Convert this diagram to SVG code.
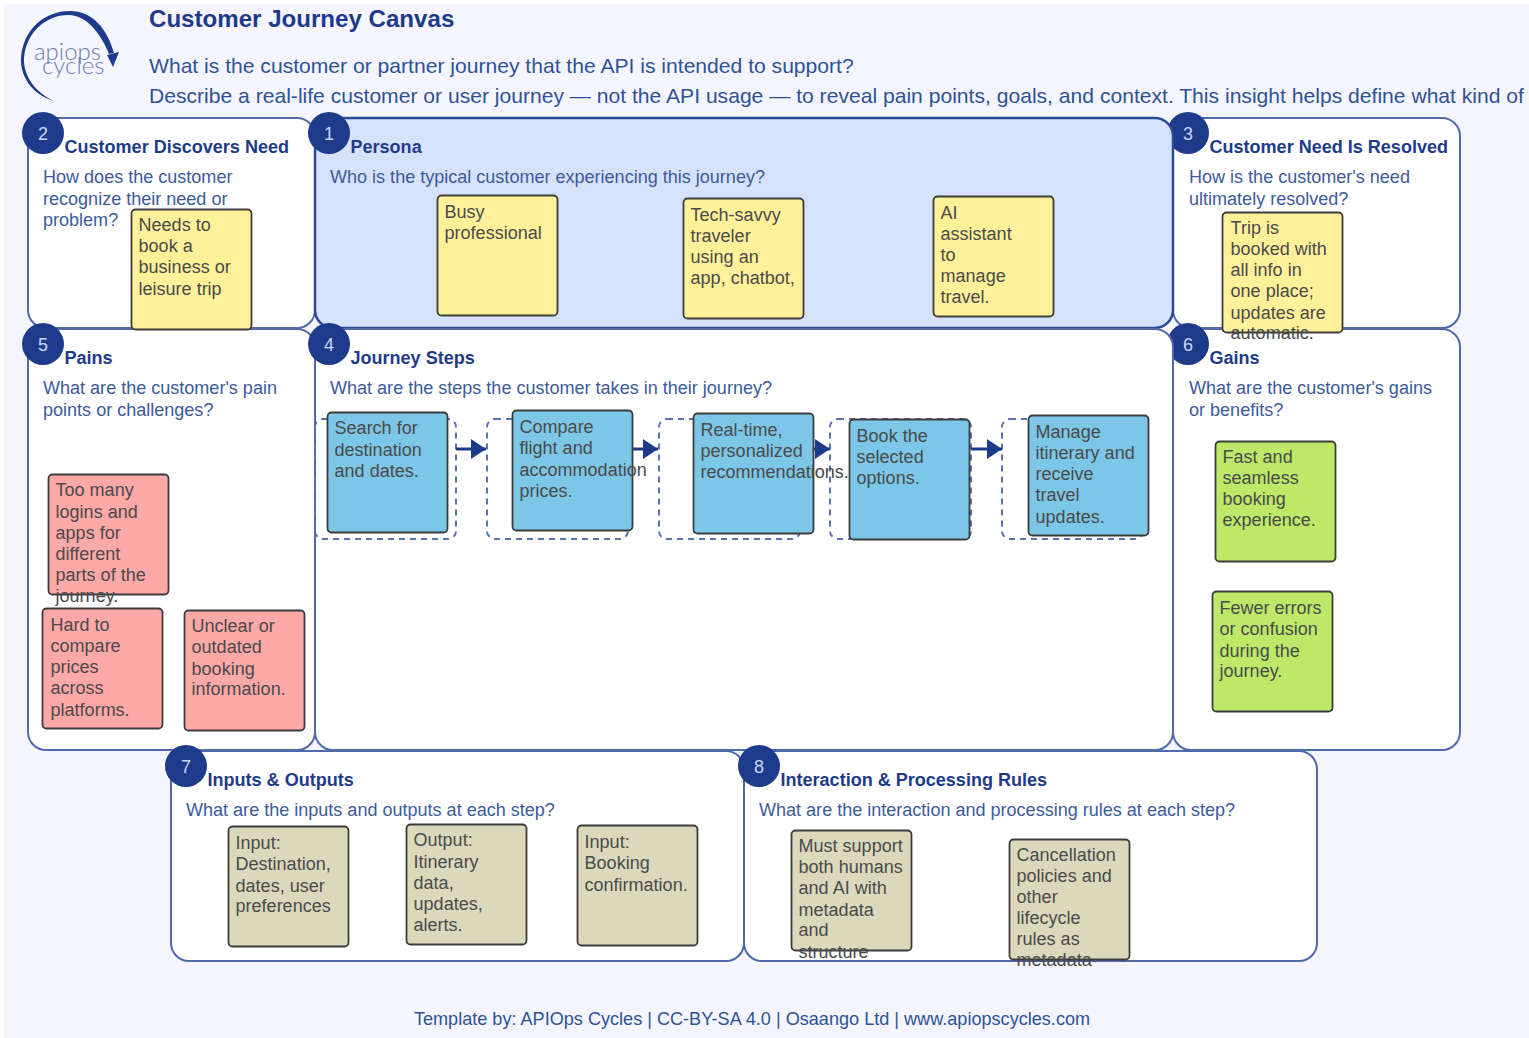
<svg xmlns="http://www.w3.org/2000/svg" width="1529" height="1038" viewBox="0 0 1529 1038">
<style>
text{font-family:"Liberation Sans",Arial,sans-serif}
.panel{fill:#fff;stroke:#4f69aa;stroke-width:2}
.blue{fill:#d6e2fb;stroke:#2a4a96;stroke-width:2.5}
.t{font-size:18.05px;font-weight:bold;fill:#1e3a8a;transform:translate(-.5px,0)}
.q{font-size:18.05px;fill:#3c5a9c;transform:translate(0,.2px)}
.n{fill:#1e3a8a}
.num{font-size:18px;fill:#c8d8ff;text-anchor:middle}
.s{stroke:#3c3c3c;stroke-width:1.8;width:120px;height:120px;transform:translate(.5px,.5px)}
.y{fill:#fff199}.b{fill:#7cc6e7}.r{fill:#ffa8a8}.g{fill:#bde868}.k{fill:#dcd8bc}
.c{font-size:18px;fill:#4a4a4a;transform:translate(-.4px,0)}
.d{fill:none;stroke:#5a72b0;stroke-width:2;stroke-dasharray:6 5}
.h{font-size:21.1px;fill:#2f5296}
.a{stroke:#1e3a8a;stroke-width:3;fill:none;marker-end:url(#ah)}
</style>
<defs><marker id="ah" markerUnits="userSpaceOnUse" markerWidth="15" markerHeight="20" refX="15" refY="10" orient="auto"><path d="M0 0L15 10L0 20Z" fill="#1e3a8a"/></marker></defs>
<rect x="4" y="4" width="1525" height="1034" fill="#f4f5ff"/>
<g id="logo">
<path d="M54 101C30 94 20 74 21 58C23 30 44 11 70 11C92 11 107 28 114 53L109 54C102 36 88 16 70 15C47 14 26 32 24 58C23 74 34 92 54 101Z" fill="#1e3a8a"/>
<path d="M107 55L119 52L113 67Z" fill="#1e3a8a"/>
<text x="34" y="60" font-size="24" fill="#6d7fb0" style="font-family:Lato,sans-serif;font-weight:300">apiops</text>
<text x="42" y="74" font-size="24" fill="#6d7fb0" style="font-family:Lato,sans-serif;font-weight:300">cycles</text>
</g>
<g id="header">
<text x="149" y="27" font-weight="bold" fill="#1e3a8a" style="font-size:24.1px">Customer Journey Canvas</text>
<text x="149" y="73" class="h">What is the customer or partner journey that the API is intended to support?</text>
<text x="149" y="103" class="h">Describe a real-life customer or user journey — not the API usage — to reveal pain points, goals, and context. This insight helps define what kind of</text>
</g>
<g id="panel-2"><rect class="panel" x="28" y="118" width="287" height="210" rx="18"/><circle class="n" cx="43" cy="133" r="21"/><text class="num" x="43" y="140">2</text><text class="t" x="65" y="153">Customer Discovers Need</text><text class="q" x="43" y="183">How does the customer</text><text class="q" x="43" y="205">recognize their need or</text><text class="q" x="43" y="226">problem?</text></g>
<g id="panel-3"><rect class="panel" x="1173" y="118" width="287" height="210" rx="18"/><circle class="n" cx="1188" cy="133" r="21"/><text class="num" x="1188" y="140">3</text><text class="t" x="1210" y="153">Customer Need Is Resolved</text><text class="q" x="1189" y="183">How is the customer's need</text><text class="q" x="1189" y="205">ultimately resolved?</text></g>
<g id="panel-1"><rect class="blue" x="315" y="118" width="858" height="210" rx="18"/><circle class="n" cx="329" cy="133" r="21"/><text class="num" x="329" y="140">1</text><text class="t" x="351" y="153">Persona</text><text class="q" x="330" y="183">Who is the typical customer experiencing this journey?</text></g>
<g id="panel-5"><rect class="panel" x="28" y="329" width="287" height="421" rx="18"/><circle class="n" cx="43" cy="344" r="21"/><text class="num" x="43" y="351">5</text><text class="t" x="65" y="364">Pains</text><text class="q" x="43" y="394">What are the customer's pain</text><text class="q" x="43" y="416">points or challenges?</text></g>
<g id="panel-6"><rect class="panel" x="1173" y="329" width="287" height="421" rx="18"/><circle class="n" cx="1188" cy="344" r="21"/><text class="num" x="1188" y="351">6</text><text class="t" x="1210" y="364">Gains</text><text class="q" x="1189" y="394">What are the customer's gains</text><text class="q" x="1189" y="416">or benefits?</text></g>
<g id="panel-4"><rect class="panel" x="315" y="329" width="858" height="421" rx="18"/><circle class="n" cx="329" cy="344" r="21"/><text class="num" x="329" y="351">4</text><text class="t" x="351" y="364">Journey Steps</text><text class="q" x="330" y="394">What are the steps the customer takes in their journey?</text></g>
<g id="panel-7"><rect class="panel" x="171" y="751" width="573" height="210" rx="18"/><circle class="n" cx="186" cy="766" r="21"/><text class="num" x="186" y="773">7</text><text class="t" x="208" y="786">Inputs &amp; Outputs</text><text class="q" x="186" y="816">What are the inputs and outputs at each step?</text></g>
<g id="panel-8"><rect class="panel" x="744" y="751" width="573" height="210" rx="18"/><circle class="n" cx="759" cy="766" r="21"/><text class="num" x="759" y="773">8</text><text class="t" x="781" y="786">Interaction &amp; Processing Rules</text><text class="q" x="759" y="816">What are the interaction and processing rules at each step?</text></g>
<g id="connectors">
<rect class="d" x="315" y="419" width="141" height="120" rx="8"/>
<rect class="d" x="487" y="419" width="141" height="120" rx="8"/>
<rect class="d" x="659" y="419" width="141" height="120" rx="8"/>
<rect class="d" x="830" y="419" width="141" height="120" rx="8"/>
<rect class="d" x="1002" y="419" width="141" height="120" rx="8"/>
<path class="a" d="M456 449H486"/><path class="a" d="M628 449H658"/><path class="a" d="M800 449H830"/><path class="a" d="M971 449H1002"/>
</g>
<g id="n-a"><rect class="s y" x="131" y="209" rx="4"/><text class="c" x="139" y="231">Needs to</text><text class="c" x="139" y="252">book a</text><text class="c" x="139" y="273">business or</text><text class="c" x="139" y="295">leisure trip</text></g>
<g id="n-b"><rect class="s y" x="437" y="195" rx="4"/><text class="c" x="445" y="218">Busy</text><text class="c" x="445" y="239">professional</text></g>
<g id="n-c"><rect class="s y" x="683" y="198" rx="4"/><text class="c" x="691" y="221">Tech-savvy</text><text class="c" x="691" y="242">traveler</text><text class="c" x="691" y="263">using an</text><text class="c" x="691" y="284">app, chatbot,</text></g>
<g id="n-d"><rect class="s y" x="933" y="196" rx="4"/><text class="c" x="941" y="219">AI</text><text class="c" x="941" y="240">assistant</text><text class="c" x="941" y="261">to</text><text class="c" x="941" y="282">manage</text><text class="c" x="941" y="303">travel.</text></g>
<g id="n-e"><rect class="s y" x="1222" y="212" rx="4"/><text class="c" x="1231" y="234">Trip is</text><text class="c" x="1231" y="255">booked with</text><text class="c" x="1231" y="276">all info in</text><text class="c" x="1231" y="297">one place;</text><text class="c" x="1231" y="319">updates are</text><text class="c" x="1231" y="339">automatic.</text></g>
<g id="n-f"><rect class="s r" x="48" y="474" rx="4"/><text class="c" x="56" y="496">Too many</text><text class="c" x="56" y="518">logins and</text><text class="c" x="56" y="539">apps for</text><text class="c" x="56" y="560">different</text><text class="c" x="56" y="581">parts of the</text><text class="c" x="56" y="602">journey.</text></g>
<g id="n-g"><rect class="s r" x="42" y="608" rx="4"/><text class="c" x="51" y="631">Hard to</text><text class="c" x="51" y="652">compare</text><text class="c" x="51" y="673">prices</text><text class="c" x="51" y="694">across</text><text class="c" x="51" y="716">platforms.</text></g>
<g id="n-h"><rect class="s r" x="184" y="610" rx="4"/><text class="c" x="192" y="632">Unclear or</text><text class="c" x="192" y="653">outdated</text><text class="c" x="192" y="675">booking</text><text class="c" x="192" y="695">information.</text></g>
<g id="n-i"><rect class="s b" x="327" y="412" rx="4"/><text class="c" x="335" y="434">Search for</text><text class="c" x="335" y="456">destination</text><text class="c" x="335" y="477">and dates.</text></g>
<g id="n-j"><rect class="s b" x="512" y="410" rx="4"/><text class="c" x="520" y="433">Compare</text><text class="c" x="520" y="454">flight and</text><text class="c" x="520" y="476">accommodation</text><text class="c" x="520" y="497">prices.</text></g>
<g id="n-k"><rect class="s b" x="693" y="413" rx="4"/><text class="c" x="701" y="436">Real-time,</text><text class="c" x="701" y="457">personalized</text><text class="c" x="701" y="478">recommendations.</text></g>
<g id="n-l"><rect class="s b" x="849" y="419" rx="4"/><text class="c" x="857" y="442">Book the</text><text class="c" x="857" y="463">selected</text><text class="c" x="857" y="484">options.</text></g>
<g id="n-m"><rect class="s b" x="1028" y="415" rx="4"/><text class="c" x="1036" y="438">Manage</text><text class="c" x="1036" y="459">itinerary and</text><text class="c" x="1036" y="480">receive</text><text class="c" x="1036" y="501">travel</text><text class="c" x="1036" y="523">updates.</text></g>
<g id="n-n"><rect class="s g" x="1215" y="441" rx="4"/><text class="c" x="1223" y="463">Fast and</text><text class="c" x="1223" y="484">seamless</text><text class="c" x="1223" y="505">booking</text><text class="c" x="1223" y="526">experience.</text></g>
<g id="n-o"><rect class="s g" x="1212" y="591" rx="4"/><text class="c" x="1220" y="614">Fewer errors</text><text class="c" x="1220" y="635">or confusion</text><text class="c" x="1220" y="657">during the</text><text class="c" x="1220" y="677">journey.</text></g>
<g id="n-p"><rect class="s k" x="228" y="826" rx="4"/><text class="c" x="236" y="849">Input:</text><text class="c" x="236" y="870">Destination,</text><text class="c" x="236" y="892">dates, user</text><text class="c" x="236" y="912">preferences</text></g>
<g id="n-q"><rect class="s k" x="406" y="824" rx="4"/><text class="c" x="414" y="846">Output:</text><text class="c" x="414" y="868">Itinerary</text><text class="c" x="414" y="889">data,</text><text class="c" x="414" y="910">updates,</text><text class="c" x="414" y="931">alerts.</text></g>
<g id="n-r"><rect class="s k" x="577" y="825" rx="4"/><text class="c" x="585" y="848">Input:</text><text class="c" x="585" y="869">Booking</text><text class="c" x="585" y="891">confirmation.</text></g>
<g id="n-s"><rect class="s k" x="791" y="830" rx="4"/><text class="c" x="799" y="852">Must support</text><text class="c" x="799" y="873">both humans</text><text class="c" x="799" y="894">and AI with</text><text class="c" x="799" y="916">metadata</text><text class="c" x="799" y="936">and</text><text class="c" x="799" y="958">structure</text></g>
<g id="n-t"><rect class="s k" x="1009" y="839" rx="4"/><text class="c" x="1017" y="861">Cancellation</text><text class="c" x="1017" y="882">policies and</text><text class="c" x="1017" y="903">other</text><text class="c" x="1017" y="924">lifecycle</text><text class="c" x="1017" y="945">rules as</text><text class="c" x="1017" y="966">metadata</text></g>
<g id="footer"><text x="752" y="1025" font-size="18.1" fill="#2f5296" text-anchor="middle">Template by: APIOps Cycles | CC-BY-SA 4.0 | Osaango Ltd | www.apiopscycles.com</text></g>
</svg>
